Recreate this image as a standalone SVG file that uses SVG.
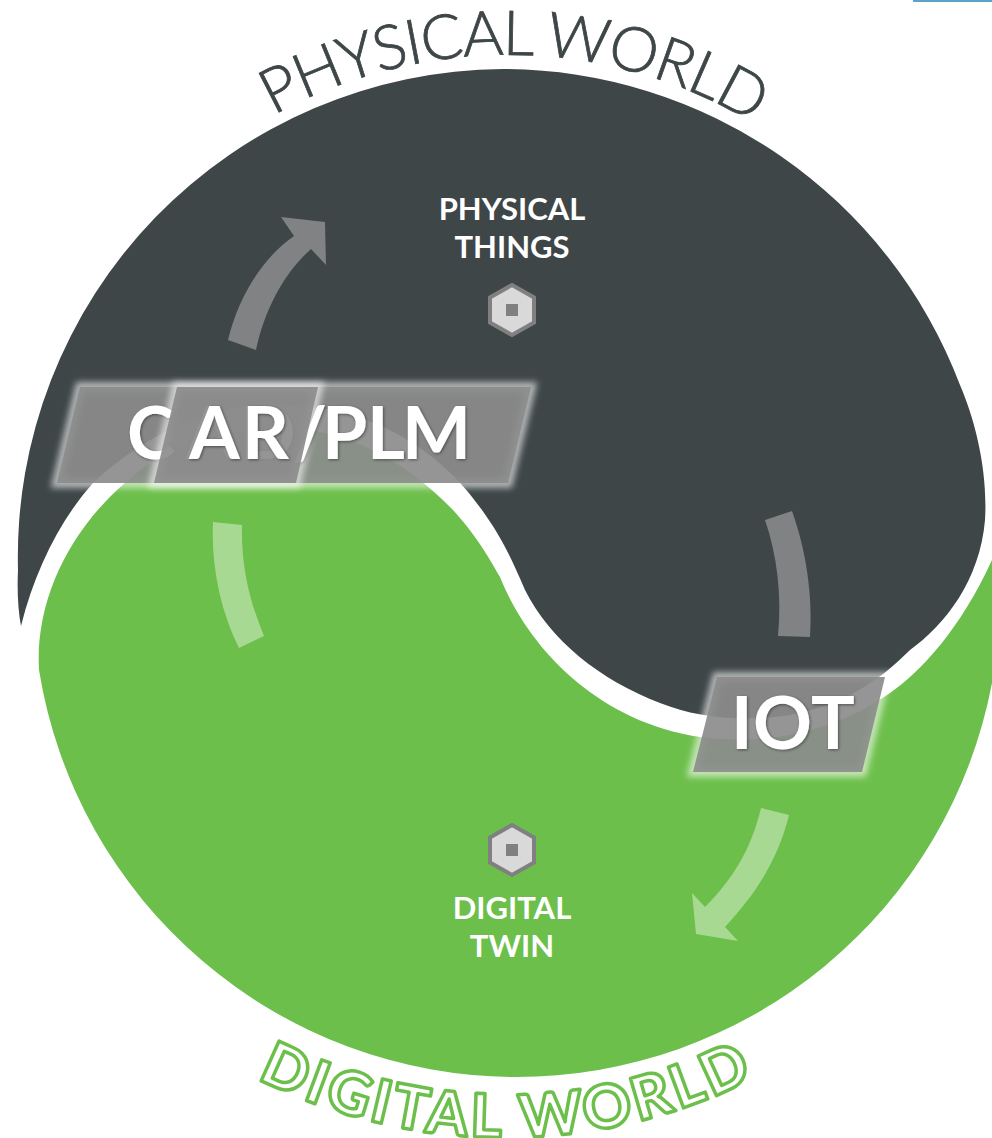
<svg xmlns="http://www.w3.org/2000/svg" width="992" height="1138" viewBox="0 0 992 1138">
<style>
.lbl{font-family:"Lato","Liberation Sans",sans-serif;font-weight:700;fill:#fff;font-size:31px;text-anchor:middle}
.big{font-family:"Lato","Liberation Sans",sans-serif;font-weight:700;fill:#fff;font-size:73px}
.panel{fill:#8c8c8c;fill-opacity:.92}
.glow{fill:none;stroke:#fff;stroke-width:10;stroke-opacity:.6;filter:url(#blur)}
.hex{fill:#d9d9d9;stroke:#808080;stroke-width:4}
.dot{fill:#808080}
.ad{fill:#808283}
.ag{fill:#a7d993}
</style>
<defs>
<filter id="blur" x="-20%" y="-30%" width="140%" height="160%"><feGaussianBlur stdDeviation="3"/></filter>
<filter id="sh" x="-10%" y="-20%" width="120%" height="140%"><feDropShadow dx="1" dy="1" stdDeviation="1.5" flood-color="#000" flood-opacity=".45"/></filter>
<path id="topArc" d="M240,136 A480,480 0 0 1 774,136"/>
<path id="botArc" d="M220,1058 A551,551 0 0 0 790,1058"/>
</defs>
<rect width="992" height="1138" fill="#fff"/>
<rect x="913" y="0" width="79" height="2" fill="#5ba3c9"/>
<g id="physical-world">
<path fill="#3e4648" d="M21,626 C18,610 17,590 18,570 A488,488 0 0 1 503,69 A490,490 0 0 1 960,385 C975,420 988,470 985,520 C980,580 945,625 910,650 C880,680 835,715 760,718 C725,720 690,715 660,703 C600,680 550,640 525,590 C510,555 500,535 482,510 C440,450 370,405 280,405 C200,405 140,440 93,483 C60,520 35,570 21,626 Z"/>
<text font-family="Lato,'Liberation Sans',sans-serif" font-weight="300" font-size="62" letter-spacing="-1.6" fill="#3e4648" stroke="#3e4648" stroke-width=".8" text-anchor="middle"><textPath href="#topArc" startOffset="51.2%">PHYSICAL WORLD</textPath></text>
</g>
<g id="digital-world">
<path fill="#6dbf4b" d="M39,670 C35,600 70,530 125,483 C165,445 220,428 280,428 C340,428 400,455 453,510 C480,540 490,560 500,577 C525,640 590,720 700,737 C760,745 830,735 890,693 C920,672 960,630 992,560 L992,683 A484,484 0 0 1 515,1077 A484,484 0 0 1 39,670 Z"/>
<text font-family="Lato,'Liberation Sans',sans-serif" font-weight="900" font-size="60" letter-spacing="3.7" fill="#fff" stroke="#6dbf4b" stroke-width="3.5" stroke-linejoin="round" text-anchor="middle"><textPath href="#botArc" startOffset="50.4%">DIGITAL WORLD</textPath></text>
</g>
<g id="connectors">
<path class="ad" d="M228,340 C238,298 262,258 294,236 L281,217 L325,222 L326,265 L311,249 C285,272 265,308 256,350 Z"/>
<path class="ad" d="M765,520 L792,511 C806,550 813,595 810,637 L778,636 C782,595 777,555 765,520 Z"/>
<path class="ag" d="M761,808 L789,815 C778,860 755,895 725,927 L738,941 L696,934 L692,893 L705,907 C732,880 751,850 761,808 Z"/>
<path class="ag" d="M213,522 L242,525 C241,565 249,600 264,636 L239,648 C220,610 211,565 213,522 Z"/>
</g>
<g id="physical-things">
<text class="lbl" x="512" y="220">PHYSICAL</text>
<text class="lbl" x="512" y="258">THINGS</text>
<polygon class="hex" points="512,285 534,297.500 534,322.500 512,335 490,322.500 490,297.500"/>
<rect class="dot" x="506" y="304" width="12" height="12"/>
</g>
<g id="digital-twin">
<polygon class="hex" points="512,825 534,837.500 534,862.500 512,875 490,862.500 490,837.500"/>
<rect class="dot" x="506" y="844" width="12" height="12"/>
<text class="lbl" x="512" y="919">DIGITAL</text>
<text class="lbl" x="512" y="957">TWIN</text>
</g>
<g id="cad-plm">
<polygon class="glow" points="80,387 531,387 508,483 57,483"/>
<polygon class="panel" points="80,387 531,387 508,483 57,483"/>
<text class="big" filter="url(#sh)" y="459" x="127 186 240 293 322 367 402">CAD/PLM</text>
</g>
<g id="ar">
<polygon class="glow" points="177,387 318,387 296,483 154,483"/>
<polygon class="panel" points="177,387 318,387 296,483 154,483"/>
<text class="big" filter="url(#sh)" y="459" x="189 242">AR</text>
</g>
<g id="iot">
<polygon class="glow" points="717,677 885,677 862,772 693,772"/>
<polygon class="panel" points="717,677 885,677 862,772 693,772"/>
<text class="big" filter="url(#sh)" y="749" x="731 753 811">IOT</text>
</g>
</svg>
